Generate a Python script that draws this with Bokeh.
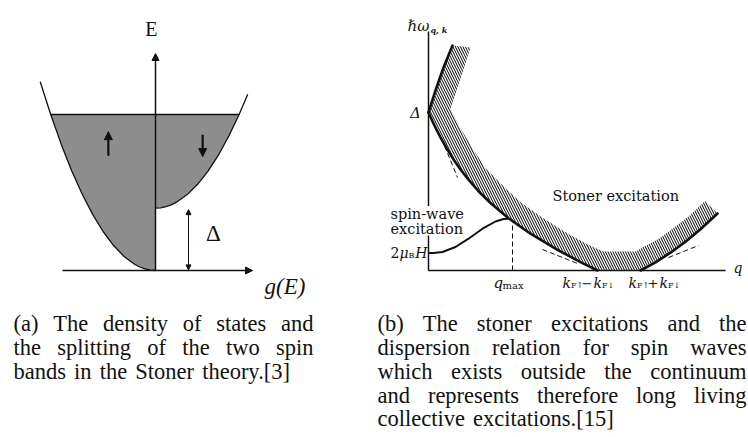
import numpy as np
from bokeh.plotting import figure
from bokeh.models import Range1d, Arrow, NormalHead
from bokeh.core.properties import value
from bokeh.embed import file_html
from bokeh.resources import INLINE

# ---------------- (a) Stoner model: spin-split densities of states ----------------
# g(E) of the majority (up) band, drawn to the left of the E axis
g_up = [0.0, 0.05, 0.10, 0.15, 0.20, 0.30, 0.40, 0.50, 0.60, 0.70, 0.80, 0.90, 1.00, 1.10]
E_up = [0.0, 0.0025, 0.01, 0.0225, 0.04, 0.09, 0.16, 0.25, 0.36, 0.49, 0.64, 0.81, 1.00, 1.21]
# g(E) of the minority (down) band, shifted up by the exchange splitting
g_dn = [0.0, 0.05, 0.10, 0.15, 0.20, 0.30, 0.40, 0.50, 0.60, 0.70, 0.80, 0.88]
E_dn = [0.40, 0.402, 0.409, 0.421, 0.438, 0.485, 0.551, 0.636, 0.739, 0.862, 1.003, 1.130]
E_F = 1.0          # Fermi level
split_a = 0.39     # splitting Δ marked by the double arrow

# ---------------- (b) Stoner continuum and spin-wave branch ----------------
# lower edge of the continuum for q < kF_up - kF_dn
q_lo = [0.0, 0.04, 0.08, 0.12, 0.18, 0.25, 0.32, 0.40, 0.50, 0.62, 0.80, 1.02, 1.29, 1.52, 1.69]
w_lo = [1.58, 1.491, 1.408, 1.331, 1.224, 1.111, 1.011, 0.908, 0.793, 0.675, 0.523, 0.368, 0.207, 0.084, 0.0]
# upper edge rising from Δ
q_hi = [0.0, 0.07, 0.15, 0.24]
w_hi = [1.58, 1.80, 2.03, 2.25]
# lower edge for q > kF_up + kF_dn
q_rt = [2.12, 2.27, 2.42, 2.57, 2.72, 2.89]
w_rt = [0.0, 0.082, 0.178, 0.288, 0.412, 0.570]
# far border of the hatched band, right end back to the top
q_edge = [2.764, 2.602, 2.318, 2.07, 1.75, 1.602, 1.382, 1.129, 0.925, 0.766, 0.562, 0.437, 0.315, 0.22, 0.32, 0.42]
w_edge = [0.696, 0.54, 0.328, 0.19, 0.19, 0.255, 0.374, 0.536, 0.679, 0.826, 1.033, 1.227, 1.431, 1.62, 1.92, 2.23]
# spin-wave dispersion starting at 2 μB H
q_sw = [0.0, 0.05, 0.14, 0.27, 0.40, 0.54, 0.67, 0.75, 0.80]
w_sw = [0.175, 0.176, 0.185, 0.235, 0.318, 0.418, 0.49, 0.515, 0.518]
# dashed approximations of the edges
tan_q = [[0.13, 0.29], [1.14, 1.49], [2.40, 2.70]]
tan_w = [[1.32, 0.93], [0.21, 0.07], [0.13, 0.25]]
q_max = 0.84
w_qmax = 0.51
k_minus = 1.69
k_plus = 2.12

# ---------------- captions ----------------
cap_a = ["(a) The density of states and",
         "the splitting of the two spin",
         "bands in the Stoner theory.[3]"]
cap_b = ["(b) The stoner excitations and the",
         "dispersion relation for spin waves",
         "which exists outside the continuum",
         "and represents therefore long living",
         "collective excitations.[15]"]

W, H = 748, 437
# panel (a): origin at (155, 270) px, 104.8 px per g unit, 156 px per E unit
ax0, asx, ay0, asy = 155.0, 104.8, 270.0, 156.0
# panel (b): origin at (428, 270) px, 100 px per unit on both axes
bx0, bsx, by0, bsy = 428.0, 100.0, 270.0, 100.0

p = figure(width=W, height=H,
           x_range=Range1d(-ax0 / asx, (W - ax0) / asx),
           y_range=Range1d(-(H - ay0) / asy, ay0 / asy),
           x_axis_type=None, y_axis_type=None,
           toolbar_location=None, output_backend="svg",
           min_border=0, outline_line_color=None,
           background_fill_color="white", border_fill_color="white")
p.extra_x_ranges = {"b": Range1d(-bx0 / bsx, (W - bx0) / bsx), "px": Range1d(0, W)}
p.extra_y_ranges = {"b": Range1d(-(H - by0) / bsy, by0 / bsy), "px": Range1d(H, 0)}

INK = "#111111"


def label(txt, x, y, rn="default", size=14, font="DejaVu Serif", style="normal",
          align="left", baseline="middle"):
    p.text(x=[x], y=[y], text=[txt], x_range_name=rn, y_range_name=rn,
           text_font=value(font), text_font_size=f"{size}px", text_font_style=style,
           text_align=align, text_baseline=baseline, text_color=INK)


def arrow(x0, y0, x1, y1, rn="default", both=False, size=7, width=1.4):
    head = NormalHead(size=size, fill_color=INK, line_color=INK, line_width=1)
    kw = dict(end=head, x_start=x0, y_start=y0, x_end=x1, y_end=y1,
              line_color=INK, line_width=width, x_range_name=rn, y_range_name=rn)
    if both:
        kw["start"] = NormalHead(size=size, fill_color=INK, line_color=INK, line_width=1)
    p.add_layout(Arrow(**kw))


# ===== panel (a) =====
gu, eu = np.array(g_up), np.array(E_up)
gd, ed = np.array(g_dn), np.array(E_dn)
gF_up = np.interp(E_F, eu, gu)
gF_dn = np.interp(E_F, ed, gd)
su, sd = eu <= E_F, ed <= E_F
FILL = "#8d8d8d"
p.patch(np.r_[-gu[su], -gF_up, 0.0], np.r_[eu[su], E_F, E_F],
        fill_color=FILL, line_color=None)
p.patch(np.r_[gd[sd], gF_dn, 0.0], np.r_[ed[sd], E_F, E_F],
        fill_color=FILL, line_color=None)
p.line(-gu, eu, line_color=INK, line_width=1.3)
p.line(gd, ed, line_color=INK, line_width=1.3)
p.line([-gF_up, gF_dn], [E_F, E_F], line_color=INK, line_width=1.5)
# axes with arrow heads
arrow(0.0, 0.0, 0.0, 1.391, width=1.5, size=7)
arrow(-0.887, 0.0, 0.926, 0.0, width=1.5, size=7)
# splitting Δ
arrow(0.315, 0.004, 0.315, split_a, both=True, size=5, width=1.0)
# spin arrows in the bands
arrow(-0.45, 0.735, -0.45, 0.89, width=2.2, size=8)
arrow(0.45, 0.87, 0.45, 0.73, width=2.2, size=8)
label("E", -0.04, 1.545, size=20, font="Liberation Serif", align="center")
label("g(E)", 1.04, -0.10, size=23, font="Liberation Serif", style="italic")
label("Δ", 0.553, 0.237, size=23, font="Liberation Serif", align="center")

# ===== panel (b) =====
band_q = list(q_hi[::-1]) + list(q_lo[1:]) + list(q_rt) + list(q_edge)
band_w = list(w_hi[::-1]) + list(w_lo[1:]) + list(w_rt) + list(w_edge)
p.patch(band_q, band_w, x_range_name="b", y_range_name="b",
        fill_color="white", fill_alpha=0.0, line_color=None,
        hatch_pattern="\\", hatch_color="black", hatch_weight=1.0, hatch_scale=5)
# axes
p.line([0, 0], [0, 2.39], x_range_name="b", y_range_name="b", line_color=INK, line_width=1.5)
p.line([0, 2.97], [0, 0], x_range_name="b", y_range_name="b", line_color=INK, line_width=1.5)
# continuum edges
for qq, ww in ((q_hi, w_hi), (q_lo, w_lo), (q_rt, w_rt)):
    p.line(qq, ww, x_range_name="b", y_range_name="b", line_color=INK,
           line_width=2.6, line_join="round", line_cap="round")
# spin waves
p.line(q_sw, w_sw, x_range_name="b", y_range_name="b", line_color=INK, line_width=2.0)
# dashed guides
p.multi_line(tan_q, tan_w, x_range_name="b", y_range_name="b", line_color=INK,
             line_width=1.0, line_dash="5 3")
p.line([q_max, q_max], [0, w_qmax], x_range_name="b", y_range_name="b",
       line_color=INK, line_width=1.0, line_dash="5 3")

# white backing behind the two-line spin-wave label (it crosses the ω axis)
p.quad(left=[-0.40], right=[0.37], bottom=[0.35], top=[0.645],
       x_range_name="b", y_range_name="b", fill_color="white", line_color=None)

label("ℏω", 0.01, 2.45, rn="b", size=15, style="italic", align="right")
label("q, k", 0.02, 2.41, rn="b", size=8, style="bold italic")
label("Δ", -0.13, 1.58, rn="b", size=15, style="italic", align="center")
label("2", -0.38, 0.18, rn="b", size=14)
label("μ", -0.29, 0.18, rn="b", size=14, style="italic")
label("B", -0.20, 0.155, rn="b", size=8)
label("H", -0.01, 0.18, rn="b", size=14, style="italic", align="right")
label("spin-wave", -0.38, 0.57, rn="b", size=14.5)
label("excitation", -0.38, 0.42, rn="b", size=14.5)
label("Stoner excitation", 1.24, 0.75, rn="b", size=14.5)
label("q", 3.05, 0.03, rn="b", size=14, style="italic")
# tick labels below the q axis
label("q", q_max - 0.19, -0.12, rn="b", size=15, style="italic")
label("max", q_max - 0.10, -0.15, rn="b", size=10)
for kq, sign in ((k_minus, "−"), (k_plus, "+")):
    left = kq - 0.35 if sign == "−" else kq - 0.12
    label("k", left, -0.12, rn="b", size=14, style="italic")
    label("F↑", left + 0.085, -0.15, rn="b", size=8)
    label(sign, left + 0.245, -0.12, rn="b", size=13, align="center")
    label("k", left + 0.31, -0.12, rn="b", size=14, style="italic")
    label("F↓", left + 0.395, -0.15, rn="b", size=8)

# ===== captions (justified) =====
TIMES = {" ": 250, "(": 333, ")": 333, "[": 333, "]": 333, ".": 250, "-": 333,
         "a": 444, "b": 500, "c": 444, "d": 500, "e": 444, "f": 333, "g": 500, "h": 500,
         "i": 278, "j": 278, "k": 500, "l": 278, "m": 778, "n": 500, "o": 500, "p": 500,
         "q": 500, "r": 333, "s": 389, "t": 278, "u": 500, "v": 500, "w": 722, "x": 500,
         "y": 500, "z": 444, "S": 556, "T": 611}
CAP_FS = 22.5


def word_w(w):
    return sum(TIMES.get(c, 500) for c in w) / 1000.0 * CAP_FS


def caption(lines, left, right, ys):
    xs, yy, tt = [], [], []
    for i, (line, y) in enumerate(zip(lines, ys)):
        words = line.split()
        widths = [word_w(w) for w in words]
        last = i == len(lines) - 1
        gap = 0.36 * CAP_FS if last else (right - left - sum(widths)) / (len(words) - 1)
        x = left
        for w, ww in zip(words, widths):
            xs.append(x); yy.append(y); tt.append(w)
            x += ww + gap
    p.text(x=xs, y=yy, text=tt, x_range_name="px", y_range_name="px",
           text_font=value("Liberation Serif"), text_font_size=f"{CAP_FS}px",
           text_align="left", text_baseline="middle", text_color=INK)


line_y = [323, 347, 371, 395, 418]
caption(cap_a, 13, 313, line_y)
caption(cap_b, 377, 746, line_y)

open("out.html", "w").write(file_html(p, INLINE))
